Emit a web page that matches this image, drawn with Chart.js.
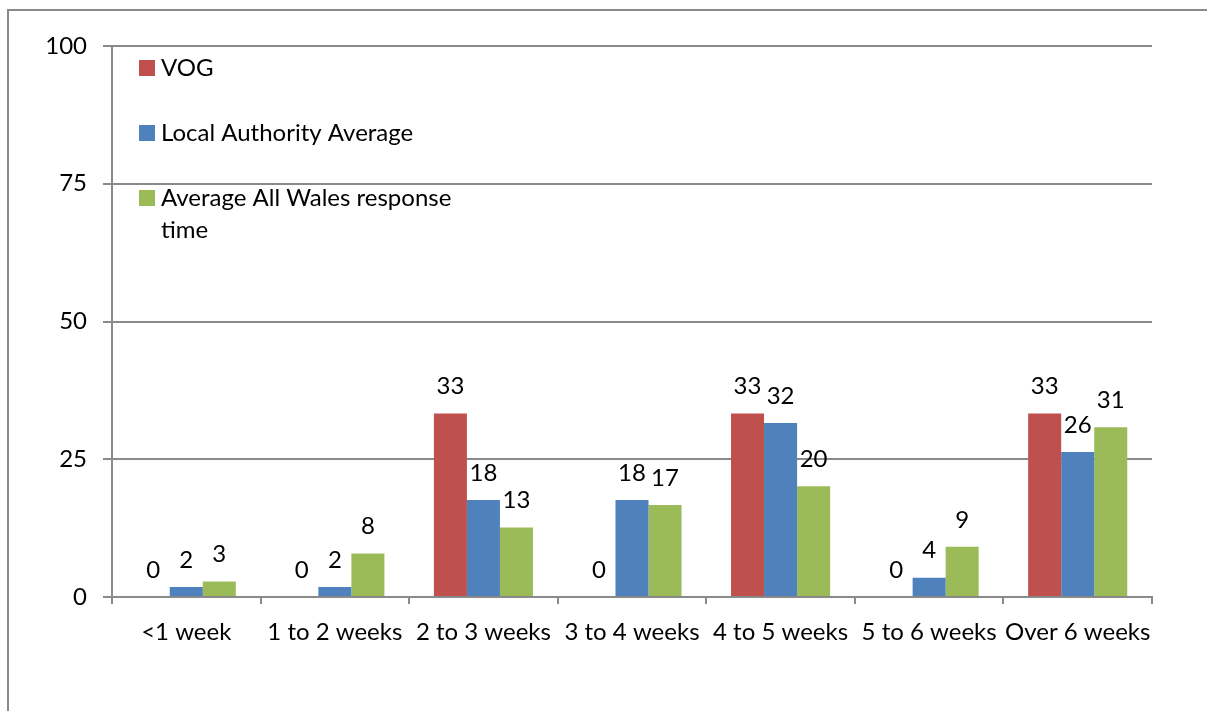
<!DOCTYPE html>
<html>
<head>
<meta charset="utf-8">
<script src="https://cdn.jsdelivr.net/npm/chart.js@4.4.0/dist/chart.umd.min.js"></script>
<style>
  body { margin: 0; background: #fff; }
  #wrap { position: relative; width: 1207px; height: 711px; }
  #frame {
    position: absolute; left: 7px; top: 9px; right: 0; bottom: 0;
    border-left: 2px solid #8a8a8a; border-top: 2px solid #8a8a8a;
  }
  canvas { position: absolute; left: 0; top: 0; }
</style>
</head>
<body>
<div id="wrap">
  <div id="frame"></div>
  <canvas id="responseChart" width="1207" height="711"></canvas>
</div>
<script>
const categories = ['<1 week', '1 to 2 weeks', '2 to 3 weeks', '3 to 4 weeks', '4 to 5 weeks', '5 to 6 weeks', 'Over 6 weeks'];
const vog = [0, 0, 33.3, 0, 33.3, 0, 33.3];
const localAuthority = [1.8, 1.8, 17.6, 17.6, 31.6, 3.5, 26.3];
const allWales = [2.8, 7.9, 12.6, 16.7, 20.1, 9.1, 30.8];
const yTicks = [0, 25, 50, 75, 100];

const FONT = 'Lato, Calibri, "Noto Sans", sans-serif';
const FONT_SIZE = 24;

// labels above every bar (rounded like the original)
const valueLabels = {
  id: 'valueLabels',
  afterDatasetsDraw(chart) {
    const ctx = chart.ctx;
    ctx.save();
    ctx.font = FONT_SIZE + 'px ' + FONT;
    ctx.fillStyle = '#000';
    ctx.textAlign = 'center';
    ctx.textBaseline = 'middle';
    chart.data.datasets.forEach((ds, i) => {
      chart.getDatasetMeta(i).data.forEach((bar, j) => {
        ctx.fillText(Math.round(ds.data[j]), bar.x, bar.y - 27);
      });
    });
    ctx.restore();
  }
};

// legend inside the plot, with wrapping
const boxLegend = {
  id: 'boxLegend',
  afterDraw(chart) {
    const ctx = chart.ctx;
    const area = chart.chartArea;
    const x = area.left + 27;
    let y = area.top + 22;
    ctx.save();
    ctx.font = FONT_SIZE + 'px ' + FONT;
    ctx.textBaseline = 'middle';
    chart.data.datasets.forEach(ds => {
      ctx.fillStyle = ds.backgroundColor;
      ctx.fillRect(x, y - 8, 16, 16);
      ctx.fillStyle = '#000';
      const lines = Array.isArray(ds.legendLines) ? ds.legendLines : [ds.label];
      lines.forEach((line, k) => {
        ctx.fillText(line, x + 22, y + k * 32);
      });
      y += 65;
    });
    ctx.restore();
  }
};

new Chart(document.getElementById('responseChart'), {
  type: 'bar',
  data: {
    labels: categories,
    datasets: [
      { label: 'VOG', data: vog, backgroundColor: '#C0504D' },
      { label: 'Local Authority Average', data: localAuthority, backgroundColor: '#4F81BD' },
      { label: 'Average All Wales response time', legendLines: ['Average All Wales response', 'time'], data: allWales, backgroundColor: '#9BBB59' }
    ]
  },
  options: {
    responsive: false,
    animation: false,
    layout: { padding: { left: 0, top: 46, right: 55, bottom: 0 } },
    datasets: { bar: { categoryPercentage: 0.667, barPercentage: 1.0 } },
    plugins: {
      legend: { display: false },
      tooltip: { enabled: false }
    },
    scales: {
      x: {
        grid: { offset: true, drawOnChartArea: false, drawTicks: true, tickLength: 7, color: '#8a8a8a', lineWidth: 2 },
        border: { color: '#8a8a8a', width: 2 },
        ticks: { color: '#000', font: { family: FONT, size: FONT_SIZE }, padding: 14, maxRotation: 0, autoSkip: false },
        afterFit(scale) { scale.height = 114; }
      },
      y: {
        min: 0,
        max: 100,
        afterBuildTicks(scale) { scale.ticks = yTicks.map(v => ({ value: v })); },
        grid: { color: '#8a8a8a', lineWidth: 2, tickLength: 9 },
        border: { color: '#8a8a8a', width: 2 },
        ticks: { color: '#000', font: { family: FONT, size: FONT_SIZE }, padding: 16 },
        afterFit(scale) { scale.width = 112; }
      }
    }
  },
  plugins: [valueLabels, boxLegend]
});
</script>
</body>
</html>
